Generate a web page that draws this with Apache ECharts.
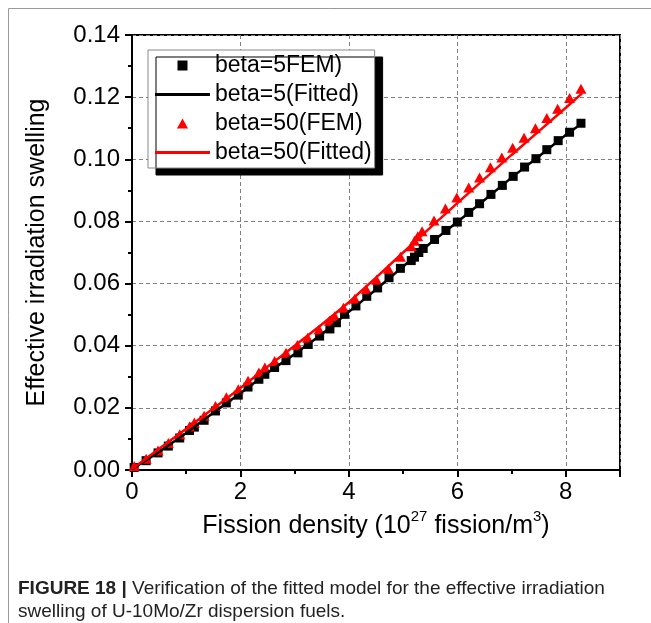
<!DOCTYPE html>
<html><head><meta charset="utf-8">
<script src="https://cdn.jsdelivr.net/npm/echarts@6/dist/echarts.min.js"></script>
<style>html,body{margin:0;padding:0;background:#fff}#c{width:651px;height:623px}</style>
</head><body><div id="c"></div>
<script>
// ---- data ----
const beta5FemX = [0.04, 0.26, 0.48, 0.67, 0.88, 1.06, 1.15, 1.33, 1.54, 1.74, 1.96, 2.14, 2.34, 2.45, 2.63, 2.84, 3.06, 3.25, 3.46, 3.65, 3.77, 3.92, 4.13, 4.33, 4.53, 4.74, 4.95, 5.15, 5.21, 5.29, 5.37, 5.58, 5.79, 6.00, 6.21, 6.41, 6.62, 6.83, 7.03, 7.24, 7.45, 7.65, 7.86, 8.07, 8.28];
const beta5Fem = [0.0008, 0.0030, 0.0055, 0.0077, 0.0103, 0.0127, 0.0138, 0.0160, 0.0190, 0.0216, 0.0241, 0.0267, 0.0292, 0.0308, 0.0330, 0.0352, 0.0377, 0.0404, 0.0431, 0.0454, 0.0474, 0.0501, 0.0528, 0.0559, 0.0586, 0.0619, 0.0649, 0.0674, 0.0685, 0.0700, 0.0713, 0.0742, 0.0771, 0.0798, 0.0829, 0.0857, 0.0887, 0.0916, 0.0945, 0.0975, 0.1002, 0.1031, 0.1060, 0.1087, 0.1116];
const beta50FemX = [0.04, 0.26, 0.48, 0.67, 0.88, 1.06, 1.15, 1.33, 1.54, 1.74, 1.96, 2.14, 2.34, 2.45, 2.63, 2.84, 3.05, 3.24, 3.45, 3.64, 3.74, 3.90, 4.11, 4.32, 4.51, 4.73, 4.95, 5.15, 5.21, 5.27, 5.35, 5.57, 5.78, 5.99, 6.21, 6.41, 6.61, 6.82, 7.02, 7.23, 7.44, 7.65, 7.85, 8.07, 8.28];
const beta50Fem = [0.0013, 0.0036, 0.0063, 0.0087, 0.0115, 0.0140, 0.0153, 0.0175, 0.0206, 0.0234, 0.0260, 0.0287, 0.0314, 0.0330, 0.0351, 0.0377, 0.0402, 0.0426, 0.0452, 0.0480, 0.0495, 0.0522, 0.0551, 0.0582, 0.0612, 0.0648, 0.0686, 0.0720, 0.0738, 0.0752, 0.0768, 0.0803, 0.0842, 0.0877, 0.0909, 0.0941, 0.0974, 0.1006, 0.1037, 0.1069, 0.1100, 0.1133, 0.1163, 0.1197, 0.1227];
const fitX = [0, 0.5, 1, 1.5, 2, 2.5, 3, 3.5, 4, 4.5, 5, 5.5, 6, 6.5, 7, 7.5, 8, 8.3];
const beta5Fit = [0.0003, 0.0058, 0.0119, 0.0184, 0.0247, 0.0313, 0.0373, 0.0437, 0.0509, 0.0581, 0.0655, 0.0730, 0.0798, 0.0869, 0.0941, 0.1009, 0.1078, 0.1116];
const beta50Fit = [0.0003, 0.0068, 0.0133, 0.0198, 0.0264, 0.0332, 0.0400, 0.0468, 0.0540, 0.0619, 0.0700, 0.0780, 0.0859, 0.0937, 0.1014, 0.1090, 0.1166, 0.1212];
const seriesNames = ['beta=5FEM)', 'beta=5(Fitted)', 'beta=50(FEM)', 'beta=50(Fitted)'];
const xTickLabels = ['0', '2', '4', '6', '8'];
const yTickLabels = ['0.00', '0.02', '0.04', '0.06', '0.08', '0.10', '0.12', '0.14'];

const pair = (xs, ys) => xs.map((x, i) => [x, ys[i]]);
const FONT = '"Liberation Sans", Arial, sans-serif';
const chart = echarts.init(document.getElementById('c'), null, {renderer: 'canvas'});
const lineIcon = 'path://M0,0H55V3H0Z';
const squareIcon = 'path://M0,0H10V10H0Z';
const triIcon = 'path://M5,0L10,9H0Z';

chart.setOption({
  animation: false,
  backgroundColor: '#fff',
  textStyle: {fontFamily: FONT},
  grid: {left: 132, right: 31, top: 35, bottom: 153, show: true, borderColor: '#000', borderWidth: 2, backgroundColor: 'transparent'},
  xAxis: {
    type: 'value', min: 0, max: 9, interval: 2,
    name: 'Fission density (10{sup|27} fission/m{sup|3})',
    nameLocation: 'middle', nameGap: 34,
    nameTextStyle: {fontSize: 25, lineHeight: 34, color: '#000', fontFamily: FONT,
      rich: {sup: {fontSize: 15, lineHeight: 15, verticalAlign: 'top', fontFamily: FONT, color: '#000'}}},
    axisLine: {show: true, onZero: false, lineStyle: {color: '#000', width: 2}},
    axisTick: {show: true, inside: false, length: 7, lineStyle: {color: '#000', width: 2}},
    minorTick: {show: true, splitNumber: 2, length: 4, lineStyle: {color: '#000', width: 2}},
    axisLabel: {fontSize: 24, color: '#000', margin: 10, showMaxLabel: false, fontFamily: FONT,
      formatter: v => xTickLabels[Math.round(v / 2)] ?? ''},
    splitLine: {show: true, lineStyle: {color: '#808080', width: 1, type: [4, 3]}}
  },
  yAxis: {
    type: 'value', min: 0, max: 0.14, interval: 0.02,
    name: 'Effective irradiation swelling',
    nameLocation: 'middle', nameGap: 82,
    nameTextStyle: {fontSize: 25, color: '#000', fontFamily: FONT},
    axisLine: {show: true, onZero: false, lineStyle: {color: '#000', width: 2}},
    axisTick: {show: true, inside: false, length: 7, lineStyle: {color: '#000', width: 2}},
    minorTick: {show: true, splitNumber: 2, length: 4, lineStyle: {color: '#000', width: 2}},
    axisLabel: {fontSize: 24, color: '#000', margin: 12, fontFamily: FONT,
      formatter: v => yTickLabels[Math.round(v / 0.02)] ?? ''},
    splitLine: {show: true, lineStyle: {color: '#808080', width: 1, type: [4, 3]}}
  },
  legend: {
    orient: 'vertical', left: 148, top: 50,
    backgroundColor: '#fff', borderColor: '#888', borderWidth: 1,
    shadowColor: '#000', shadowBlur: 0, shadowOffsetX: 8, shadowOffsetY: 7,
    padding: [4, 3, 4, 7],
    itemWidth: 55, itemHeight: 10, itemGap: 6, symbolKeepAspect: true,
    textStyle: {fontSize: 23, color: '#000', fontFamily: FONT, lineHeight: 23},
    data: [
      {name: seriesNames[0], icon: squareIcon},
      {name: seriesNames[1], icon: lineIcon},
      {name: seriesNames[2], icon: triIcon},
      {name: seriesNames[3], icon: lineIcon}
    ]
  },
  series: [
    {name: seriesNames[0], type: 'scatter', data: pair(beta5FemX, beta5Fem), symbol: 'rect', symbolSize: 9,
     itemStyle: {color: '#000', opacity: 1}},
    {name: seriesNames[1], type: 'line', data: pair(fitX, beta5Fit), symbol: 'none', smooth: false,
     lineStyle: {color: '#000', width: 2.5}, itemStyle: {color: '#000'}},
    {name: seriesNames[2], type: 'scatter', data: pair(beta50FemX, beta50Fem), symbol: 'triangle', symbolSize: [11, 10],
     itemStyle: {color: '#ff0000', opacity: 1}},
    {name: seriesNames[3], type: 'line', data: pair(fitX, beta50Fit), symbol: 'none', smooth: false,
     lineStyle: {color: '#ff0000', width: 2.5}, itemStyle: {color: '#ff0000'}}
  ],
  graphic: [
    {type: 'line', shape: {x1: 8.5, y1: 8.5, x2: 8.5, y2: 623}, style: {stroke: '#999', lineWidth: 1}},
    {type: 'line', shape: {x1: 8.5, y1: 8.5, x2: 651, y2: 8.5}, style: {stroke: '#999', lineWidth: 1}},
    {type: 'text', left: 18, top: 579, style: {
      text: '{b|FIGURE 18 |} Verification of the fitted model for the effective irradiation',
      font: '19px ' + FONT, fill: '#222',
      rich: {b: {fontWeight: 'bold', fontSize: 19, fontFamily: FONT, fill: '#222'}}}},
    {type: 'text', left: 18, top: 602, style: {
      text: 'swelling of U-10Mo/Zr dispersion fuels.', font: '19px ' + FONT, fill: '#222'}}
  ]
});
</script></body></html>
